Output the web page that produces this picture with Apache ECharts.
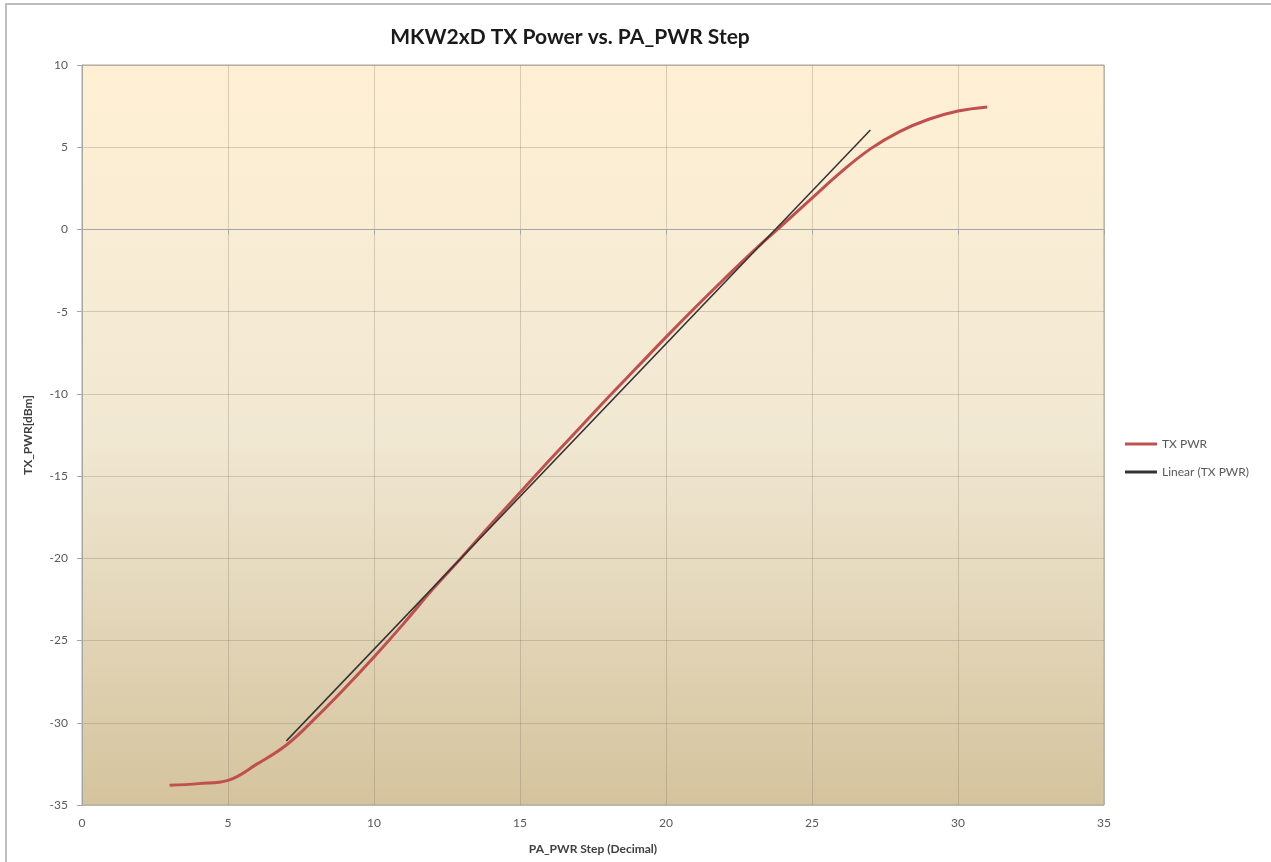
<!DOCTYPE html>
<html>
<head>
<meta charset="utf-8">
<script src="https://cdn.jsdelivr.net/npm/echarts@6/dist/echarts.min.js"></script>
<style>html,body{margin:0;padding:0;background:#fff;}#c{width:1271px;height:862px;}</style>
</head>
<body>
<div id="c"></div>
<script>
const steps = [3,4,5,6,7,8,9,10,11,12,13,14,15,16,17,18,19,20,21,22,23,24,25,26,27,28,29,30,31];
const txPwr = [-33.8,-33.7,-33.5,-32.5,-31.35,-29.7,-27.9,-26.0,-24.0,-21.9,-19.95,-17.95,-16.0,-14.05,-12.15,-10.25,-8.4,-6.55,-4.75,-3.0,-1.3,0.3,1.9,3.5,4.9,5.95,6.7,7.2,7.45];
const linearX = [7, 27];
const linearY = [-31.1, 6.05];
const xTicks = [0,5,10,15,20,25,30,35];
const yTicks = [-35,-30,-25,-20,-15,-10,-5,0,5,10];

const font = 'Lato, "Open Sans", sans-serif';
const chart = echarts.init(document.getElementById('c'), null, {renderer:'canvas'});
chart.setOption({
  backgroundColor: '#ffffff',
  animation: false,
  title: {
    text: 'MKW2xD TX Power vs. PA_PWR Step',
    left: 565, top: 22, textAlign: 'center',
    textStyle: {fontFamily: font, fontSize: 21, fontWeight: 'bold', color: '#1a1a1a'}
  },
  graphic: [{
    type: 'rect', shape: {x: 6, y: 4, width: 1270, height: 860},
    style: {fill: 'none', stroke: '#bdbdbd', lineWidth: 2}, silent: true, z: -1
  }],
  legend: {
    orient: 'vertical', left: 1120, top: 433, itemGap: 16,
    itemWidth: 32, itemHeight: 3, icon: 'rect',
    textStyle: {fontFamily: font, fontSize: 12, color: '#595959'},
    data: ['TX PWR', 'Linear (TX PWR)']
  },
  grid: {
    left: 82, right: 167, top: 65, bottom: 57,
    show: true, borderColor: '#a6a6a6', borderWidth: 1,
    backgroundColor: new echarts.graphic.LinearGradient(0, 0, 0, 1, [
      {offset: 0, color: '#fff0d4'},
      {offset: 0.5, color: '#f1e8d3'},
      {offset: 1, color: '#d4c39d'}
    ])
  },
  xAxis: {
    type: 'value', min: 0, max: 35, interval: 5,
    name: 'PA_PWR Step (Decimal)', nameLocation: 'middle', nameGap: 38,
    nameTextStyle: {fontFamily: font, fontSize: 12, fontWeight: 'bold', color: '#404040'},
    axisLine: {show: true, lineStyle: {color: '#a6a6a6'}},
    axisTick: {show: true, length: 5, lineStyle: {color: '#a6a6a6'}},
    axisLabel: {fontFamily: font, fontSize: 12, color: '#595959', margin: 12,
      formatter: v => xTicks.includes(v) ? String(v) : ''},
    splitLine: {show: true, lineStyle: {color: 'rgba(120,110,90,0.28)', width: 1}}
  },
  yAxis: {
    type: 'value', min: -35, max: 10, interval: 5,
    name: 'TX_PWR[dBm]', nameLocation: 'middle', nameGap: 48, nameRotate: 90,
    nameTextStyle: {fontFamily: font, fontSize: 12, fontWeight: 'bold', color: '#404040'},
    axisLine: {show: true, lineStyle: {color: '#a6a6a6'}},
    axisTick: {show: true, length: 5, lineStyle: {color: '#a6a6a6'}},
    axisLabel: {fontFamily: font, fontSize: 12, color: '#595959', margin: 14,
      formatter: v => yTicks.includes(v) ? String(v) : ''},
    splitLine: {show: true, lineStyle: {color: 'rgba(120,110,90,0.28)', width: 1}}
  },
  series: [
    {
      name: 'TX PWR', type: 'line', smooth: 0.4, showSymbol: false,
      lineStyle: {color: '#c0504d', width: 3}, itemStyle: {color: '#c0504d'},
      data: steps.map((s, i) => [s, txPwr[i]]), z: 2
    },
    {
      name: 'Linear (TX PWR)', type: 'line', showSymbol: false,
      lineStyle: {color: '#333333', width: 1.5}, itemStyle: {color: '#333333'},
      data: linearX.map((s, i) => [s, linearY[i]]), z: 3
    }
  ]
});
</script>
</body>
</html>
